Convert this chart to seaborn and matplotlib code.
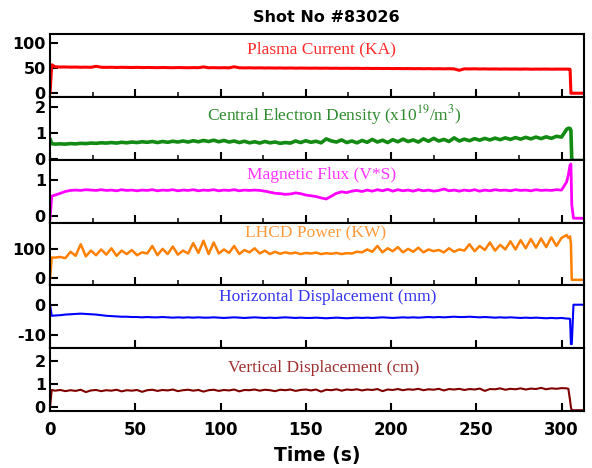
import pandas as pd
import matplotlib
matplotlib.use("Agg")
import matplotlib.pyplot as plt
from matplotlib.ticker import MultipleLocator
import seaborn as sns

# ================================
# Data read off the shot #83026 traces
# ================================
time_s = [0, 1,
          3, 6, 9, 12, 15, 18, 21, 24, 27, 30,
          33, 36, 39, 42, 45, 48, 51, 54, 57, 60,
          63, 66, 69, 72, 75, 78, 81, 84, 87, 90,
          93, 96, 99, 102, 105, 108, 111, 114, 117, 120,
          123, 126, 129, 132, 135, 138, 141, 144, 147, 150,
          153, 156, 159, 162, 165, 168, 171, 174, 177, 180,
          183, 186, 189, 192, 195, 198, 201, 204, 207, 210,
          213, 216, 219, 222, 225, 228, 231, 234, 237, 240,
          243, 246, 249, 252, 255, 258, 261, 264, 267, 270,
          273, 276, 279, 282, 285, 288, 291, 294, 297, 300,
          303, 304, 305, 305.5, 306, 307, 313]

plasma_current = [0, 57,
                  53.0, 52.5, 52.7, 52.3, 52.5, 52.1, 52.3, 52.0, 54.0, 52.1,
                  51.9, 52.1, 51.7, 52.0, 51.8, 51.6, 51.9, 51.5, 51.7, 51.5,
                  51.3, 51.6, 51.4, 51.2, 51.5, 51.3, 51.1, 51.4, 51.2, 52.8,
                  51.1, 51.3, 51.0, 51.2, 50.9, 53.0, 51.1, 50.8, 51.0, 50.7,
                  50.9, 50.6, 50.8, 50.5, 50.7, 50.4, 50.6, 50.3, 50.5, 50.4,
                  50.2, 50.4, 50.1, 50.3, 50.0, 50.2, 49.9, 50.1, 49.8, 50.0,
                  49.7, 49.9, 49.6, 49.8, 49.5, 49.7, 49.4, 49.6, 49.3, 49.5,
                  49.2, 49.4, 49.1, 49.3, 49.0, 49.2, 48.9, 49.1, 48.8, 46.0,
                  48.9, 48.7, 49.0, 48.6, 48.8, 48.5, 48.7, 48.4, 48.6, 48.4,
                  48.5, 48.3, 48.6, 48.2, 48.4, 48.3, 48.5, 48.2, 48.4, 48.3,
                  48.4, 48.3, 48.2, 0, 0, 0, 0]

electron_density = [0.78, 0.60,
                    0.58, 0.59, 0.58, 0.60, 0.59, 0.61, 0.60, 0.62, 0.61, 0.63,
                    0.62, 0.64, 0.62, 0.65, 0.63, 0.66, 0.64, 0.67, 0.65, 0.68,
                    0.64, 0.68, 0.65, 0.69, 0.66, 0.70, 0.66, 0.71, 0.67, 0.72,
                    0.68, 0.73, 0.67, 0.72, 0.66, 0.70, 0.64, 0.69, 0.63, 0.67,
                    0.62, 0.68, 0.63, 0.66, 0.61, 0.64, 0.62, 0.70, 0.64, 0.71,
                    0.65, 0.69, 0.63, 0.78, 0.70, 0.66, 0.74, 0.64, 0.70, 0.63,
                    0.72, 0.65, 0.76, 0.66, 0.73, 0.64, 0.75, 0.67, 0.77, 0.68,
                    0.74, 0.66, 0.78, 0.69, 0.80, 0.70, 0.76, 0.68, 0.82, 0.70,
                    0.77, 0.71, 0.79, 0.73, 0.80, 0.74, 0.81, 0.75, 0.82, 0.76,
                    0.83, 0.77, 0.84, 0.78, 0.85, 0.79, 0.86, 0.80, 0.88, 0.85,
                    1.15, 1.19, 1.18, 1.10, -0.05, -0.05, -0.05]

magnetic_flux = [-0.10, 0.55,
                 0.58, 0.63, 0.68, 0.71, 0.72, 0.71, 0.73, 0.72, 0.71, 0.73,
                 0.71, 0.72, 0.70, 0.73, 0.71, 0.72, 0.70, 0.72, 0.71, 0.73,
                 0.70, 0.72, 0.71, 0.73, 0.70, 0.72, 0.71, 0.73, 0.70, 0.72,
                 0.71, 0.73, 0.70, 0.72, 0.71, 0.73, 0.70, 0.72, 0.71, 0.72,
                 0.71, 0.69, 0.66, 0.63, 0.62, 0.60, 0.61, 0.64, 0.62, 0.58,
                 0.56, 0.54, 0.50, 0.47, 0.55, 0.63, 0.67, 0.65, 0.69, 0.71,
                 0.68, 0.72, 0.69, 0.73, 0.70, 0.74, 0.69, 0.73, 0.70, 0.72,
                 0.69, 0.73, 0.70, 0.72, 0.69, 0.71, 0.75, 0.70, 0.72, 0.69,
                 0.72, 0.70, 0.73, 0.69, 0.72, 0.70, 0.73, 0.71, 0.72, 0.70,
                 0.73, 0.71, 0.72, 0.70, 0.73, 0.71, 0.72, 0.71, 0.73, 0.72,
                 0.95, 1.15, 1.42, 1.45, 0.30, -0.07, -0.07]

lhcd_power = [0, 72,
              72, 74, 70, 92, 78, 118, 76, 96, 80, 100,
              82, 104, 78, 96, 84, 98, 80, 90, 86, 112,
              80, 102, 84, 110, 82, 96, 86, 122, 88, 130,
              84, 124, 86, 100, 88, 112, 84, 98, 90, 104,
              86, 96, 84, 92, 85, 90, 86, 89, 84, 88,
              86, 89, 84, 87, 85, 88, 84, 87, 86, 92,
              90, 100, 92, 112, 90, 104, 94, 108, 90, 102,
              92, 106, 90, 100, 94, 98, 90, 104, 92, 100,
              96, 118, 94, 112, 98, 124, 96, 116, 100, 128,
              100, 132, 104, 136, 106, 138, 108, 142, 112, 140,
              150, 140, 145, 120, -5, -5, -5]

horizontal_disp = [0, -3.6,
                   -3.5, -3.4, -3.2, -3.1, -3.0, -2.9, -3.0, -3.1, -3.2, -3.4,
                   -3.6, -3.7, -3.8, -3.9, -3.9, -4.0, -4.0, -4.1, -4.0, -4.1,
                   -4.1, -4.0, -4.1, -4.2, -4.1, -4.2, -4.1, -4.2, -4.1, -4.2,
                   -4.2, -4.1, -4.2, -4.3, -4.2, -4.1, -4.2, -4.3, -4.2, -4.1,
                   -4.2, -4.3, -4.2, -4.3, -4.2, -4.1, -4.2, -4.3, -4.2, -4.3,
                   -4.3, -4.2, -4.3, -4.4, -4.3, -4.2, -4.3, -4.4, -4.3, -4.2,
                   -4.3, -4.2, -4.3, -4.2, -4.1, -4.2, -4.3, -4.2, -4.1, -4.2,
                   -4.1, -4.2, -4.1, -4.0, -4.1, -4.0, -4.1, -4.0, -3.9, -4.0,
                   -4.0, -3.9, -4.0, -4.1, -4.0, -4.1, -4.2, -4.1, -4.2, -4.1,
                   -4.2, -4.3, -4.2, -4.3, -4.2, -4.3, -4.4, -4.3, -4.4, -4.3,
                   -4.5, -4.5, -4.6, -12.8, -12.8, 0, 0]

vertical_disp = [0, 0.75,
                 0.72, 0.75, 0.70, 0.74, 0.71, 0.76, 0.66, 0.73, 0.75, 0.70,
                 0.74, 0.72, 0.76, 0.69, 0.74, 0.72, 0.75, 0.67, 0.74, 0.76,
                 0.71, 0.75, 0.73, 0.77, 0.70, 0.74, 0.76, 0.72, 0.75, 0.68,
                 0.74, 0.76, 0.71, 0.75, 0.73, 0.77, 0.69, 0.75, 0.74, 0.77,
                 0.72, 0.76, 0.74, 0.70, 0.76, 0.74, 0.77, 0.71, 0.75, 0.77,
                 0.73, 0.77, 0.68, 0.76, 0.74, 0.78, 0.72, 0.77, 0.75, 0.78,
                 0.73, 0.77, 0.75, 0.79, 0.70, 0.77, 0.75, 0.79, 0.74, 0.78,
                 0.76, 0.80, 0.74, 0.78, 0.76, 0.80, 0.73, 0.79, 0.77, 0.80,
                 0.75, 0.79, 0.77, 0.81, 0.71, 0.79, 0.78, 0.82, 0.76, 0.80,
                 0.78, 0.82, 0.77, 0.81, 0.79, 0.84, 0.78, 0.82, 0.80, 0.83,
                 0.82, 0.80, 0.30, 0.00, -0.12, -0.12, -0.12]

labels = ["Plasma Current (KA)",
          "Central Electron Density (x10$^{19}$/m$^{3}$)",
          "Magnetic Flux (V*S)",
          "LHCD Power (KW)",
          "Horizontal Displacement (mm)",
          "Vertical Displacement (cm)"]
x_ticks = [0, 50, 100, 150, 200, 250, 300]

# ================================
# Styling per panel
# ================================
series = [plasma_current, electron_density, magnetic_flux,
          lhcd_power, horizontal_disp, vertical_disp]
line_colors = ["#ff0000", "#138a13", "#ff00ff", "#ff8000", "#0000ff", "#800000"]
text_colors = ["#ff2a2a", "#2e8b2e", "#ff33ff", "#ff9a3c", "#3535f0", "#a03030"]
line_widths = [2.2, 2.6, 2.0, 1.8, 1.5, 1.5]
y_limits = [(-7.5, 118.5), (-0.02, 2.39), (-0.19, 1.57),
            (-24, 193), (-14.1, 6.3), (-0.15, 2.55)]
y_ticks = [[0, 50, 100], [0, 1, 2], [0, 1], [0, 100], [-10, 0], [0, 1, 2]]
text_pos = [(0.509, 0.76), (0.532, 0.71), (0.509, 0.76),
            (0.498, 0.83), (0.520, 0.81), (0.513, 0.69)]

sns.set_style("ticks")
plt.rcParams["font.family"] = ["DejaVu Sans"]
plt.rcParams["mathtext.fontset"] = "stix"
plt.rcParams["axes.unicode_minus"] = False
plt.rcParams["text.color"] = "black"
plt.rcParams["axes.labelcolor"] = "black"

df = pd.DataFrame({"time": time_s})

fig, axes = plt.subplots(6, 1, sharex=True, figsize=(5.92, 4.68), dpi=100)
fig.subplots_adjust(left=0.0845, right=0.986, top=0.927, bottom=0.122, hspace=0)

for i, ax in enumerate(axes):
    df["value"] = series[i]
    sns.lineplot(data=df, x="time", y="value", ax=ax, color=line_colors[i],
                 linewidth=line_widths[i], estimator=None, sort=False)
    ax.set_ylim(*y_limits[i])
    ax.set_yticks(y_ticks[i])
    ax.set_xlim(0, 313)
    ax.set_xticks(x_ticks)
    ax.xaxis.set_minor_locator(MultipleLocator(25))
    ax.set_ylabel("")
    ax.set_xlabel("")
    for sp in ax.spines.values():
        sp.set_visible(True)
        sp.set_linewidth(1.5)
        sp.set_color("black")
    ax.tick_params(axis="both", which="major", direction="in", length=6, width=1.5,
                   labelsize=11.5, pad=3, top=False, right=False, colors="black")
    ax.tick_params(axis="x", which="minor", direction="in", length=3.5, width=1.3,
                   top=False)
    ax.tick_params(axis="y", which="minor", length=0)
    if i >= 4:
        ax.tick_params(axis="x", which="minor", length=0)
    for lab in ax.get_yticklabels():
        lab.set_fontweight("bold")
    ax.text(text_pos[i][0], text_pos[i][1], labels[i], transform=ax.transAxes,
            ha="center", va="center", color=text_colors[i],
            family="Liberation Serif", fontsize=12.5)

axes[-1].tick_params(axis="x", which="major", pad=7, labelsize=12)
for lab in axes[-1].get_xticklabels():
    lab.set_fontweight("bold")
axes[-1].set_xlabel("Time (s)", fontsize=13.5, fontweight="bold", labelpad=5,
                    color="black")

fig.text(0.552, 0.962, "Shot No #83026", ha="center", va="center",
         fontsize=11.5, fontweight="bold", color="black")

fig.savefig("out.png", dpi=100)
